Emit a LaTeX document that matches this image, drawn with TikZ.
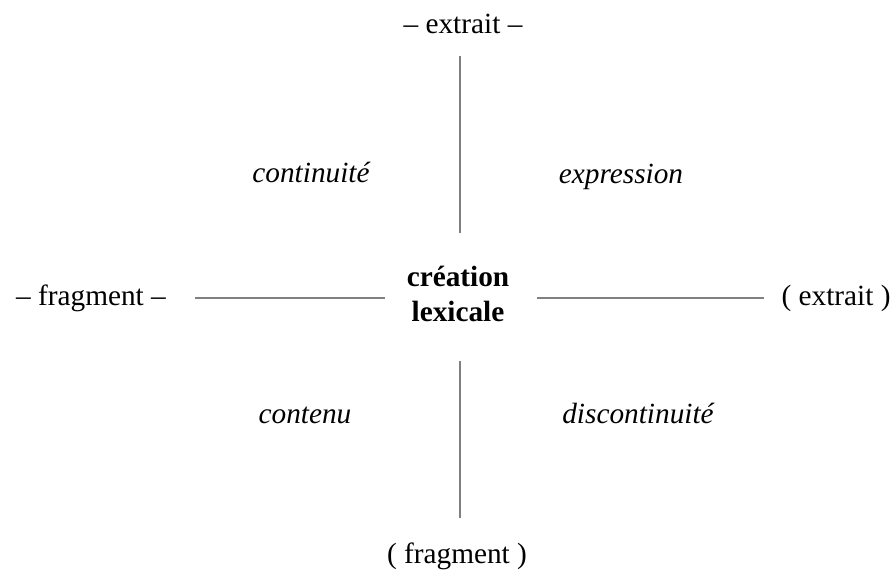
\documentclass[tikz,border=0pt]{standalone}
\usepackage{fontspec}
\setmainfont{Liberation Serif}[
  BoldFont=Liberation Serif Bold,
  ItalicFont=Liberation Serif Italic,
  BoldItalicFont=Liberation Serif Bold Italic]
\usetikzlibrary{positioning}

\begin{document}
\begin{tikzpicture}[
  x=0.03cm, y=-0.03cm,
  pole/.style={font=\fontsize{25}{29}\selectfont, inner sep=0pt, anchor=base},
  sens/.style={font=\fontsize{25}{29}\selectfont\itshape, inner sep=0pt, anchor=base},
  noyau/.style={font=\fontsize{25}{30}\selectfont\bfseries, align=center, inner sep=0pt},
  axe/.style={draw=black!50, line width=1.5pt}
]
  \useasboundingbox (0,0) rectangle (893,581);
  \node[noyau] (centre) at (458,294) {création\\lexicale};
  \node[pole] (haut) at (463,33) {-- extrait --};
  \node[pole] (bas) at (457,563) {( fragment )};
  \node[pole] (gauche) at (91,305) {-- fragment --};
  \node[pole] (droite) at (836,305) {( extrait )};
  \node[sens] (continuite) at (311,182) {continuité};
  \node[sens] (expression) at (621,183) {expression};
  \node[sens] (contenu) at (305,423) {contenu};
  \node[sens] (discontinuite) at (638,423) {discontinuité};

  % axes
  \coordinate (axe) at (460,297);
  \draw[axe, shorten <=0.66cm, shorten >=1.0cm] (axe |- haut.south) -- (axe |- centre.north);
  \draw[axe, shorten <=1.17cm, shorten >=0.72cm] (axe |- centre.south) -- (axe |- bas.north);
  \draw[axe, shorten <=0.87cm, shorten >=0.66cm] (gauche.east) -- (centre.west |- gauche.east);
  \draw[axe, shorten <=0.84cm, shorten >=0.51cm] (centre.east |- droite.west) -- (droite.west);
\end{tikzpicture}
\end{document}
